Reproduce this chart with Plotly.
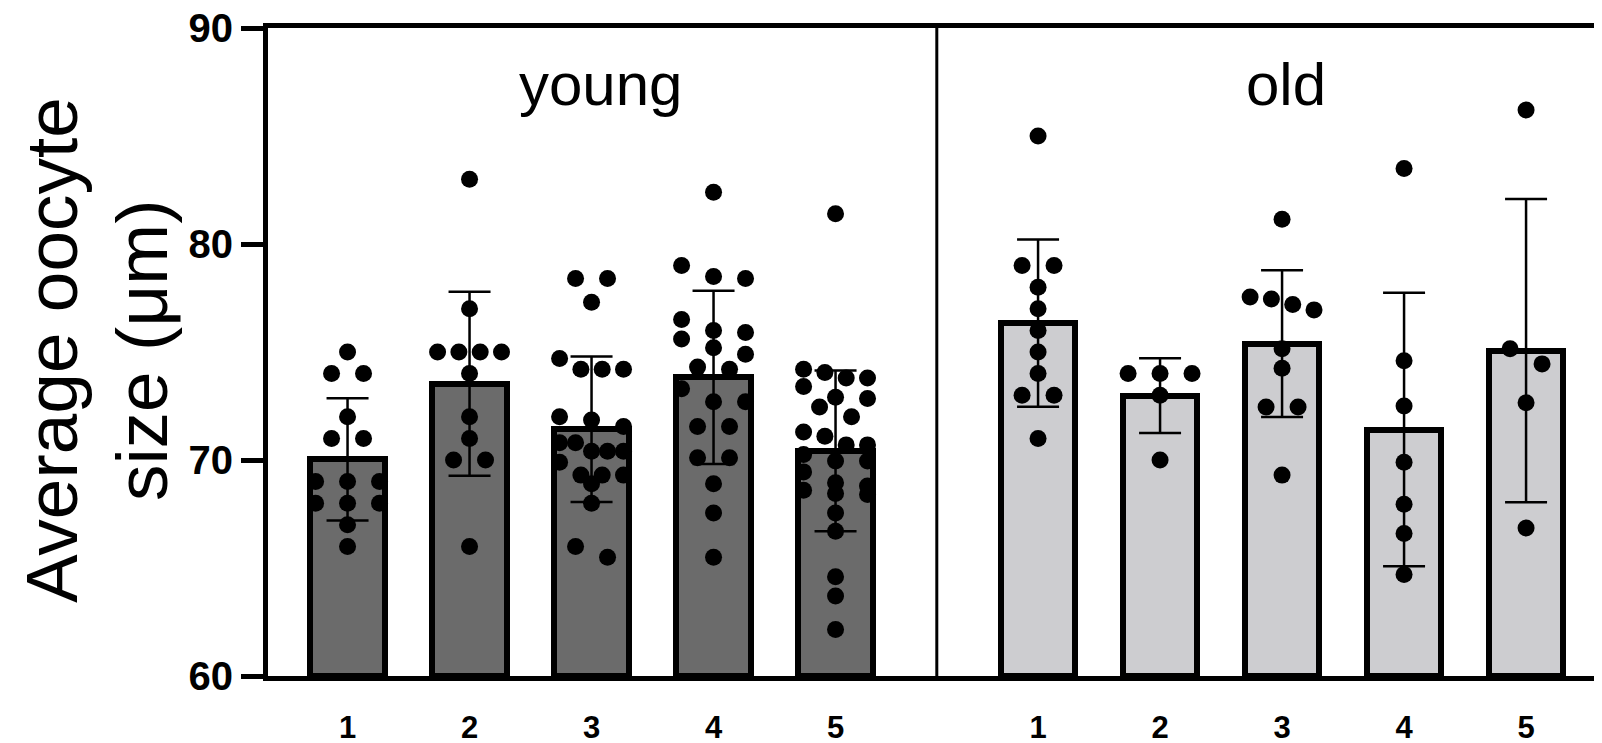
import numpy as np
import plotly.graph_objects as go

# ---------------- data ----------------
groups = ["young", "old"]
categories = ["1", "2", "3", "4", "5"]

young_means = [70.03, 73.53, 71.42, 73.83, 70.42]
young_sd = [2.83, 4.26, 3.37, 4.01, 3.72]
old_means = [76.34, 72.98, 75.39, 71.41, 75.06]
old_sd = [3.87, 1.73, 3.40, 6.33, 7.02]

young_points = [
    [75.0, 74.0, 74.0, 72.0, 71.0, 71.0, 69.0, 69.0, 69.0, 68.0, 68.0, 68.0, 67.0, 66.0],
    [83.0, 77.0, 75.0, 75.0, 75.0, 75.0, 74.0, 72.0, 71.0, 70.0, 70.0, 66.0],
    [78.4, 78.4, 77.3, 74.7, 74.2, 74.2, 74.2, 72.0, 71.85, 71.55, 70.8, 70.8, 70.4, 70.4,
     70.4, 69.9, 69.3, 69.3, 69.3, 68.9, 68.0, 66.0, 65.5],
    [82.4, 79.0, 78.5, 78.4, 76.5, 76.0, 75.9, 75.6, 75.2, 74.9, 74.3, 74.2, 73.3, 72.7,
     72.7, 71.55, 71.55, 70.1, 70.1, 68.9, 67.55, 65.5],
    [81.4, 74.2, 74.05, 73.8, 73.8, 73.4, 72.9, 72.85, 72.45, 72.0, 71.3, 71.1, 70.7, 70.7,
     70.25, 69.95, 69.95, 69.45, 68.95, 68.8, 68.6, 68.45, 68.4, 67.55, 66.7, 64.6, 63.7, 62.15],
]
old_points = [
    [85.0, 79.0, 79.0, 78.0, 77.0, 76.0, 75.0, 74.0, 73.0, 73.0, 71.0],
    [74.0, 74.0, 74.0, 73.0, 70.0],
    [81.15, 77.55, 77.45, 77.2, 76.95, 75.15, 74.25, 72.45, 72.45, 69.3],
    [83.5, 74.6, 72.5, 69.9, 67.95, 66.6, 64.7],
    [86.2, 75.15, 74.45, 72.65, 66.85],
]

title_lines = ["Average oocyte", "size (μm)"]

# ---------------- layout helpers ----------------
FONT = "Liberation Sans, Arial, Helvetica, sans-serif"
group_gap = 1.66
x_young = np.arange(len(categories), dtype=float)
x_old = np.arange(len(categories), dtype=float) + len(categories) - 1 + group_gap
divider_x = (x_young[-1] + x_old[0]) / 2
x_range = [-0.652, 10.348]


def swarm_offsets(vals, row_h=0.74, step=0.262, max_half=0.262):
    vals = np.asarray(vals, dtype=float)
    order = np.argsort(-vals, kind="stable")
    offs = np.zeros(len(vals))
    i = 0
    while i < len(order):
        start = vals[order[i]]
        j = i
        while j < len(order) and start - vals[order[j]] <= row_h:
            j += 1
        n = j - i
        sp = step if n <= 1 else min(step, 2 * max_half / (n - 1))
        for k in range(n):
            offs[order[i + k]] = (k - (n - 1) / 2) * sp
        i = j
    return offs


fig = go.Figure()

for xs, means, sds, color in [
    (x_young, young_means, young_sd, "#6b6b6b"),
    (x_old, old_means, old_sd, "#cdcdd0"),
]:
    fig.add_trace(go.Bar(
        x=xs, y=np.array(means) - 60, base=60, width=0.61,
        marker=dict(color=color, line=dict(color="black", width=6)),
        error_y=dict(type="data", array=sds, visible=True, color="black",
                     thickness=2.5, width=21),
        showlegend=False, hoverinfo="skip",
    ))

for xs, pts in [(x_young, young_points), (x_old, old_points)]:
    px, py = [], []
    for xc, vals in zip(xs, pts):
        offs = swarm_offsets(vals)
        px.extend(xc + offs)
        py.extend(vals)
    fig.add_trace(go.Scatter(
        x=px, y=py, mode="markers",
        marker=dict(color="black", size=17, line=dict(width=0)),
        showlegend=False, cliponaxis=False,
    ))

fig.add_shape(type="line", xref="x", yref="paper", x0=divider_x, x1=divider_x,
              y0=0, y1=1, line=dict(color="black", width=3))

for name, xs, shift in zip(groups, [x_young, x_old], [0.07, 0.035]):
    fig.add_annotation(x=float(np.mean(xs)) + shift, y=87.4, xref="x", yref="y",
                       text=name, showarrow=False, xanchor="center", yanchor="middle",
                       font=dict(family=FONT, size=60, color="black"))

for line, px_ in zip(title_lines, [-0.1617, -0.0946]):
    fig.add_annotation(x=px_, y=0.503, xref="paper", yref="paper",
                       text=line, textangle=-90, showarrow=False,
                       xanchor="center", yanchor="middle",
                       font=dict(family=FONT, size=73, color="black"))

fig.update_layout(
    width=1602, height=743,
    margin=dict(l=260, r=0, t=20, b=75),
    plot_bgcolor="white", paper_bgcolor="white",
    bargap=0,
    xaxis=dict(range=x_range, tickvals=list(x_young) + list(x_old),
               ticktext=categories + categories, showgrid=False, zeroline=False,
               showline=True, linecolor="black", linewidth=5, mirror=True,
               automargin=False, ticklabeloverflow="allow",
               ticks="outside", ticklen=20, tickcolor="rgba(0,0,0,0)",
               tickfont=dict(family=FONT, size=31, color="black", weight="bold")),
    yaxis=dict(range=[60, 90], tickvals=[60, 70, 80, 90], showgrid=False,
               zeroline=False, showline=True, linecolor="black", linewidth=5,
               automargin=False, ticklabeloverflow="allow",
               ticks="outside", ticklen=22, tickwidth=5, tickcolor="black",
               tickfont=dict(family=FONT, size=40, color="black", weight="bold")),
)

fig.write_html("out.html")
